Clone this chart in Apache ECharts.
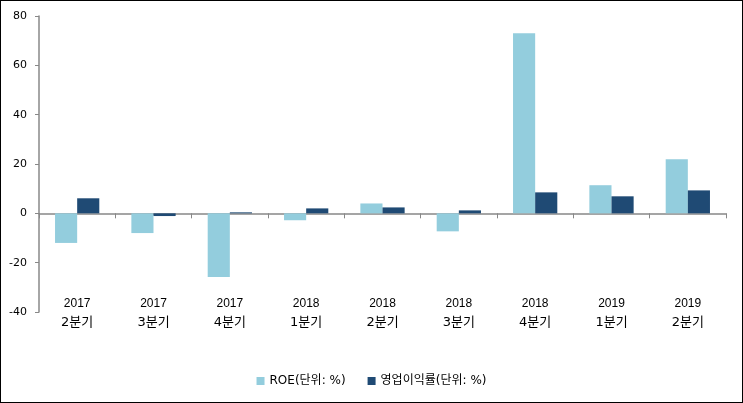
<!DOCTYPE html>
<html><head><meta charset="utf-8">
<script src="https://cdn.jsdelivr.net/npm/echarts@6/dist/echarts.min.js"></script>
<style>html,body{margin:0;padding:0;background:#fff}#c{width:743px;height:403px;box-sizing:border-box;border:1px solid #000;}</style>
</head><body><div id="c"></div>
<script>
var categories = ['2017\n2분기','2017\n3분기','2017\n4분기','2018\n1분기','2018\n2분기','2018\n3분기','2018\n4분기','2019\n1분기','2019\n2분기'];
var roe = [-12.0, -8.0, -25.8, -2.8, 4.0, -7.3, 73.0, 11.4, 21.9];
var opMargin = [6.1, -1.1, 0.4, 2.0, 2.4, 1.2, 8.5, 6.9, 9.3];
var yTicks = [-40, -20, 0, 20, 40, 60, 80];
var seriesNames = ['ROE(단위: %)', '영업이익률(단위: %)'];
var font = 'DejaVu Sans, Noto Sans CJK KR, sans-serif';
var numFont = 'Liberation Sans, Noto Sans CJK KR, sans-serif';
var chart = echarts.init(document.getElementById('c'));
chart.setOption({
  animation: false,
  textStyle: {fontFamily: font},
  grid: {left: 38, right: 16, top: 15, bottom: 90},
  legend: {
    bottom: 10, left: 'center', itemWidth: 8, itemHeight: 8, itemGap: 22,
    icon: 'rect',
    textStyle: {fontSize: 12, color: '#000', fontFamily: font},
    data: seriesNames
  },
  xAxis: [{
    type: 'category', data: categories,
    axisLine: {onZero: true, lineStyle: {color: '#888', width: 1.5}},
    axisTick: {show: true, length: 5, lineStyle: {color: '#888'}},
    axisLabel: {show: false}
  }, {
    type: 'category', data: categories, position: 'bottom', offset: -18,
    axisLine: {show: false}, axisTick: {show: false},
    axisLabel: {
      margin: 0, color: '#000', lineHeight: 19, fontFamily: font,
      formatter: function (v) { var p = v.split('\n'); return '{a|' + p[0] + '}\n{b|' + p[1] + '}'; },
      rich: {
        a: {fontSize: 12, lineHeight: 19, color: '#000', fontFamily: numFont},
        b: {fontSize: 13, lineHeight: 19, color: '#000', fontFamily: font}
      }
    }
  }],
  yAxis: {
    type: 'value', min: yTicks[0], max: yTicks[yTicks.length-1], interval: 20,
    splitLine: {show: false},
    axisLine: {show: true, lineStyle: {color: '#888', width: 1.5}},
    axisTick: {show: true, length: 4, lineStyle: {color: '#888'}},
    axisLabel: {fontSize: 11, color: '#000', margin: 12, fontFamily: font}
  },
  series: [{
    name: seriesNames[0], type: 'bar', data: roe, xAxisIndex: 0,
    barGap: '0%', barCategoryGap: '42%',
    itemStyle: {color: '#93CDDD'}
  }, {
    name: seriesNames[1], type: 'bar', data: opMargin, xAxisIndex: 0,
    barGap: '0%', barCategoryGap: '42%',
    itemStyle: {color: '#1F4A74'}
  }]
});
</script></body></html>
